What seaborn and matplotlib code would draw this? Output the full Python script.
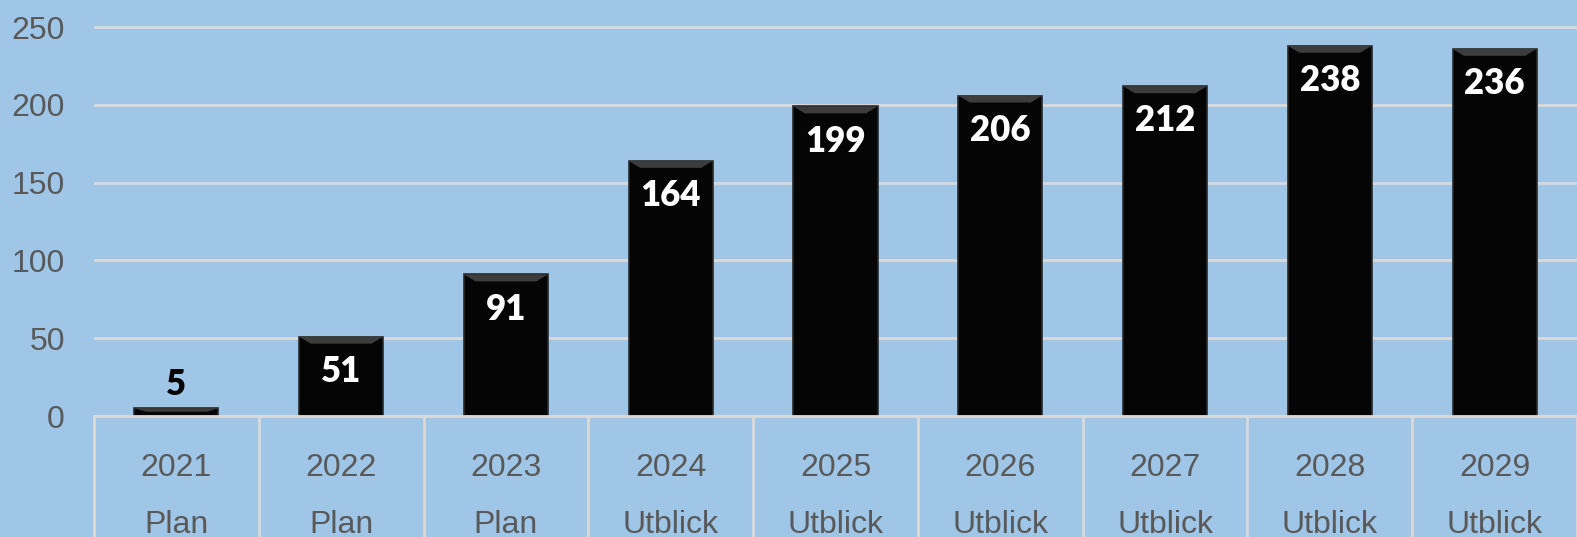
import numpy as np
import pandas as pd
import seaborn as sns
import matplotlib.pyplot as plt
from matplotlib.patches import Polygon
from matplotlib.ticker import FixedLocator

years = ["2021", "2022", "2023", "2024", "2025", "2026", "2027", "2028", "2029"]
kinds = ["Plan", "Plan", "Plan", "Utblick", "Utblick", "Utblick", "Utblick", "Utblick", "Utblick"]
values = [5, 51, 91, 164, 199, 206, 212, 238, 236]

bg = "#A0C6E7"
grid = "#DADADA"
text_gray = "#595959"

df = pd.DataFrame({"label": [f"{y}\n{k}" for y, k in zip(years, kinds)], "value": values})

sns.set_theme(style="white")
plt.rcParams["font.family"] = ["Liberation Sans", "DejaVu Sans"]

fig = plt.figure(figsize=(15.77, 5.37), dpi=100)
fig.patch.set_facecolor(bg)
ax = fig.add_axes([94 / 1577, 121 / 537, 1 - 94 / 1577, 416 / 537])
ax.set_facecolor(bg)

sns.barplot(data=df, x="label", y="value", color="#050505", width=0.51,
            edgecolor="#2a2a2a", linewidth=1.2, saturation=1, ax=ax, zorder=3)

ax.set_ylim(0, 267.4)
ax.set_xlim(-0.5, len(values) - 0.5)

# bevel on top of each bar (a trapezoid a few pixels deep)
dy = 7 / 1.556
dx = 0.07
for p in list(ax.patches):
    x0, w, h = p.get_x(), p.get_width(), p.get_height()
    d = min(dy, h * 0.45)
    ax.add_patch(Polygon([[x0, h], [x0 + w, h], [x0 + w - dx, h - d], [x0 + dx, h - d]],
                         closed=True, facecolor="#3c3c3c", edgecolor="none", zorder=4))

ax.set_yticks([0, 50, 100, 150, 200, 250])
ax.yaxis.grid(True, color=grid, linewidth=2, zorder=0)
ax.set_xlabel("")
ax.set_ylabel("")

for s in ["top", "right", "left"]:
    ax.spines[s].set_visible(False)
ax.spines["bottom"].set_color(grid)
ax.spines["bottom"].set_linewidth(2)
ax.spines["bottom"].set_zorder(5)

ax.tick_params(axis="y", length=0, pad=21, labelsize=23, labelcolor=text_gray)
ax.tick_params(axis="x", which="major", length=0, pad=27, labelsize=23, labelcolor=text_gray)
ax.xaxis.set_minor_locator(FixedLocator(np.arange(-0.5, len(values), 1.0)))
ax.tick_params(axis="x", which="minor", direction="out", length=95, width=2, color=grid, bottom=True)
for lab in ax.get_xticklabels():
    lab.set_linespacing(2.15)

for p, v in zip(ax.patches, values):
    cx = p.get_x() + p.get_width() / 2
    if v < 20:
        ax.annotate(str(v), (cx, v), xytext=(0, 5), textcoords="offset points",
                    ha="center", va="bottom", fontsize=25, fontweight="heavy",
                    color="black", family="Lato", zorder=6)
    else:
        ax.annotate(str(v), (cx, v), xytext=(0, -25), textcoords="offset points",
                    ha="center", va="center", fontsize=25, fontweight="heavy",
                    color="white", family="Lato", zorder=6)

fig.savefig("out.png", dpi=100, facecolor=bg)
